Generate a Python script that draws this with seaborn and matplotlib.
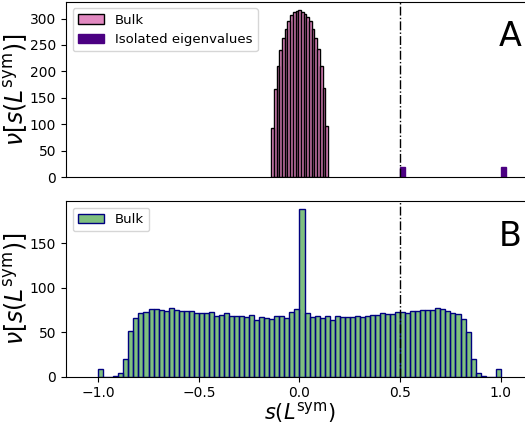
import numpy as np
import pandas as pd
import matplotlib
matplotlib.use("Agg")
import matplotlib.pyplot as plt
import seaborn as sns

# ---- data ----
top_bulk_counts = [93, 166, 211, 241, 264, 281, 296, 306, 312, 315, 316,
                   313, 309, 302, 295, 281, 264, 243, 211, 168, 97]
top_bulk_start = -0.14
top_bulk_width = 0.0134

isolated_values = [0.5, 1.0]
isolated_counts = [20, 20]
isolated_width = 0.025

bottom_counts = [8, 0, 0, 1, 4, 20, 51, 66, 71, 73,
                 76, 76, 75, 74, 77, 75, 74, 74, 74, 72,
                 71, 71, 73, 68, 69, 71, 68, 68, 68, 67,
                 69, 64, 67, 66, 65, 68, 68, 66, 73, 76,
                 188, 71, 67, 68, 66, 68, 64, 68, 67, 67,
                 67, 68, 67, 68, 69, 69, 71, 70, 70, 73,
                 73, 72, 74, 74, 75, 75, 75, 77, 76, 74,
                 72, 70, 65, 50, 20, 4, 1, 0, 0, 9]
bottom_start = -1.0
bottom_width = 0.025

x_ticks = [-1.0, -0.5, 0.0, 0.5, 1.0]
top_yticks = [0, 50, 100, 150, 200, 250, 300]
bottom_yticks = [0, 50, 100, 150]
threshold = 0.5

fig = plt.figure(figsize=(5.25, 4.25), dpi=100)
axA = fig.add_axes([0.1257, 0.5830, 0.8895, 0.4130])
axB = fig.add_axes([0.1257, 0.1140, 0.8895, 0.4130])

ylab = r"$\nu[s(L^{\rm sym})]$"

# Panel A
edges_top = [float(e) for e in top_bulk_start + top_bulk_width * np.arange(len(top_bulk_counts) + 1)]
centers_top = [(a + b) / 2 for a, b in zip(edges_top[:-1], edges_top[1:])]
df_top = pd.DataFrame({"s": centers_top, "n": top_bulk_counts})
sns.histplot(data=df_top, x="s", weights="n", bins=edges_top, ax=axA,
             color="mediumvioletred", alpha=0.5, edgecolor="black",
             linewidth=1, label="Bulk")
for i, (v, c) in enumerate(zip(isolated_values, isolated_counts)):
    df_iso = pd.DataFrame({"s": [v + isolated_width / 2], "n": [c]})
    sns.histplot(data=df_iso, x="s", weights="n",
                 bins=[v, v + isolated_width], ax=axA,
                 color="indigo", alpha=1.0, edgecolor="indigo", linewidth=1,
                 label="Isolated eigenvalues" if i == 0 else "_nolegend_")
axA.axvline(threshold, color="black", linestyle="-.", linewidth=1)
axA.set_xlim(-1.16, 1.16)
axA.set_yticks(top_yticks)
axA.tick_params(axis="x", bottom=False, labelbottom=False)
axA.set_xlabel("")
axA.set_ylabel(ylab, fontsize=17, labelpad=0)
axA.legend(loc="upper left", fontsize=9.5)
axA.text(0.951, 0.80, "A", transform=axA.transAxes, fontsize=24,
         ha="center", va="center")

# Panel B
edges_b = [float(e) for e in bottom_start + bottom_width * np.arange(len(bottom_counts) + 1)]
centers_b = [(a + b) / 2 for a, b in zip(edges_b[:-1], edges_b[1:])]
df_b = pd.DataFrame({"s": centers_b, "n": bottom_counts})
sns.histplot(data=df_b, x="s", weights="n", bins=edges_b, ax=axB,
             color="green", alpha=0.5, edgecolor="navy", linewidth=1,
             label="Bulk")
axB.axvline(threshold, color="black", linestyle="-.", linewidth=1)
axB.set_xlim(-1.16, 1.16)
axB.set_xticks(x_ticks)
axB.set_yticks(bottom_yticks)
axB.set_xlabel(r"$s(L^{\rm sym})$", fontsize=15, labelpad=0)
axB.set_ylabel(ylab, fontsize=17, labelpad=0)
axB.legend(loc="upper left", fontsize=9.5)
axB.text(0.951, 0.80, "B", transform=axB.transAxes, fontsize=24,
         ha="center", va="center")

fig.savefig("out.png", dpi=100)
